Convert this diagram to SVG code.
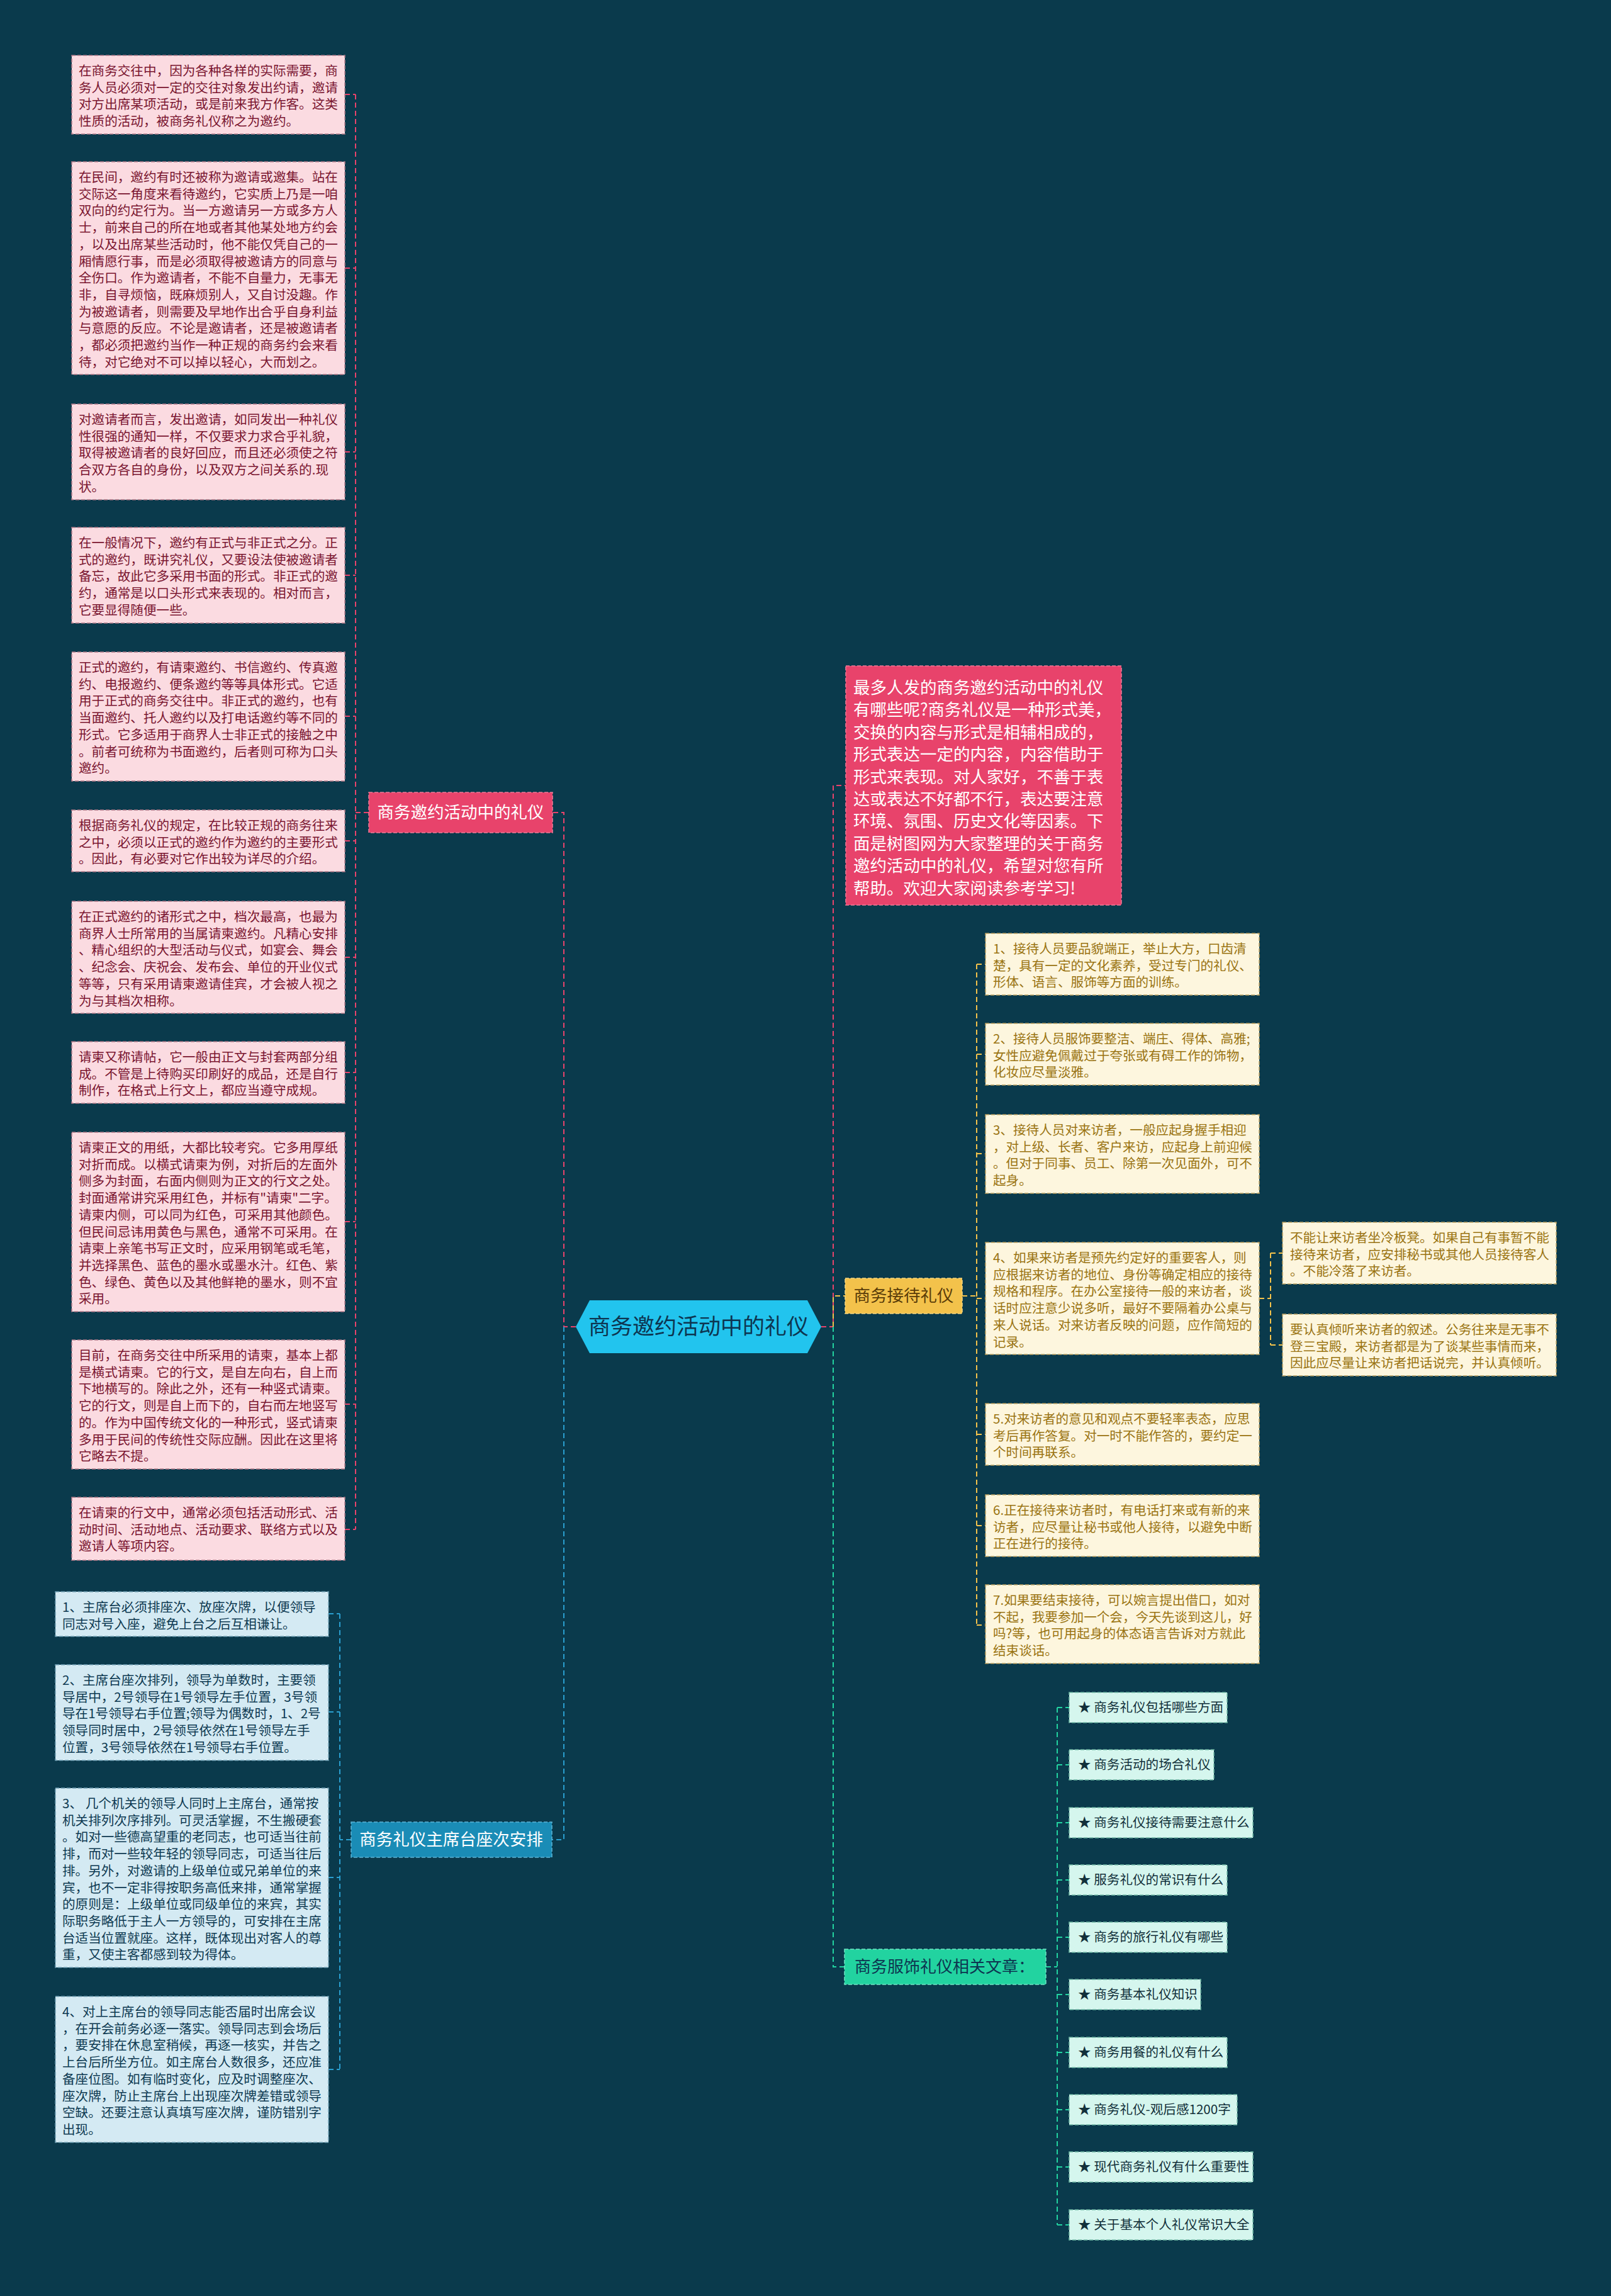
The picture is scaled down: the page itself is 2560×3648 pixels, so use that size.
<svg xmlns="http://www.w3.org/2000/svg" width="2560" height="3648" viewBox="0 0 2560 3648">
<style>
text{font-family:"Noto Sans CJK SC","Noto Sans",sans-serif;}
.lp{fill:#fbdbe1;stroke:#b07a88;stroke-width:1.5;stroke-dasharray:6 3;}
.lb{fill:#d4eaf3;stroke:#6f9fb3;stroke-width:1.5;stroke-dasharray:6 3;}
.ly{fill:#fdf6de;stroke:#b9a060;stroke-width:1.5;stroke-dasharray:6 3;}
.la{fill:#d5f6ee;stroke:#6fb8a4;stroke-width:1.5;stroke-dasharray:6 3;}
.tp{font-size:20.6px;fill:#7a1530;}
.tb{font-size:20.6px;fill:#0e3a52;}
.ty{font-size:20.6px;fill:#9a7412;}
.ta{font-size:20.6px;fill:#12303a;}
.br{font-size:26.5px;fill:#ffffff;}
.cp{fill:none;stroke:#e8436b;stroke-width:2;stroke-dasharray:8 5;}
.cb{fill:none;stroke:#2a9fd0;stroke-width:2;stroke-dasharray:8 5;}
.cy{fill:none;stroke:#f3c24b;stroke-width:2;stroke-dasharray:8 5;}
.cg{fill:none;stroke:#22d3a0;stroke-width:2;stroke-dasharray:8 5;}
</style>
<rect x="0" y="0" width="2560" height="3648" fill="#0a3a4c"/>

<g id="connectors">
  <!-- center to left branches -->
  <path class="cp" d="M915 2108 H896 V1291 H878"/>
  <path class="cb" d="M896 2108 V2923 H877"/>
  <!-- center to right branches -->
  <path class="cp" d="M1305 2108 H1324 V1248 H1344"/>
  <path class="cy" d="M1324 2108 V2059 H1343"/>
  <path class="cg" d="M1324 2108 V3125 H1342"/>
  <!-- pink leaves -->
  <path class="cp" d="M586 1291 H565 M565 150 V2430 M548 150 H565 M548 426 H565 M548 718 H565 M548 914 H565 M548 1138 H565 M548 1336 H565 M548 1521 H565 M548 1704 H565 M548 1941 H565 M548 2231 H565 M548 2430 H565"/>
  <!-- blue leaves -->
  <path class="cb" d="M558 2923 H540 M540 2564 V3288 M522 2564 H540 M522 2720 H540 M522 2983 H540 M522 3288 H540"/>
  <!-- yellow leaves -->
  <path class="cy" d="M1529 2059 H1552 M1552 1532 V2582 M1552 1532 H1566 M1552 1675 H1566 M1552 1833 H1566 M1552 2063 H1566 M1552 2279 H1566 M1552 2424 H1566 M1552 2582 H1566"/>
  <path class="cy" d="M2001 2063 H2019 M2019 1991 V2137 M2019 1991 H2038 M2019 2137 H2038"/>
  <!-- article leaves -->
  <path class="cg" d="M1662 3125 H1680 M1680 2713 V3535 M1680 2713 H1699 M1680 2804 H1699 M1680 2896 H1699 M1680 2987 H1699 M1680 3078 H1699 M1680 3169 H1699 M1680 3261 H1699 M1680 3352 H1699 M1680 3443 H1699 M1680 3535 H1699"/>
</g>

<g id="center">
  <path d="M915 2108 L937 2066 H1283 L1305 2108 L1283 2150 H937 Z" fill="#22c4ee"/>
  <text x="1110" y="2120" text-anchor="middle" font-size="35" fill="#0d3550">商务邀约活动中的礼仪</text>
</g>

<g id="branch-invite">
  <rect x="586" y="1259" width="292" height="64" fill="#e8436b" stroke="#f07a97" stroke-width="1.5" stroke-dasharray="6 3"/>
  <text class="br" x="732" y="1300" text-anchor="middle">商务邀约活动中的礼仪</text>
</g>
<g id="branch-seat">
  <rect x="558" y="2895" width="319" height="56" fill="#1a8cb6" stroke="#5bb4d6" stroke-width="1.5" stroke-dasharray="6 3"/>
  <text class="br" x="717" y="2932" text-anchor="middle">商务礼仪主席台座次安排</text>
</g>
<g id="intro">
  <rect x="1344" y="1058" width="438" height="380" fill="#e8436b" stroke="#f07a97" stroke-width="1.5" stroke-dasharray="6 3"/>
  <text class="br" x="1356" y="1102"><tspan x="1356" dy="0">最多人发的商务邀约活动中的礼仪</tspan><tspan x="1356" dy="35.4">有哪些呢?商务礼仪是一种形式美，</tspan><tspan x="1356" dy="35.4">交换的内容与形式是相辅相成的，</tspan><tspan x="1356" dy="35.4">形式表达一定的内容，内容借助于</tspan><tspan x="1356" dy="35.4">形式来表现。对人家好，不善于表</tspan><tspan x="1356" dy="35.4">达或表达不好都不行，表达要注意</tspan><tspan x="1356" dy="35.4">环境、氛围、历史文化等因素。下</tspan><tspan x="1356" dy="35.4">面是树图网为大家整理的关于商务</tspan><tspan x="1356" dy="35.4">邀约活动中的礼仪，希望对您有所</tspan><tspan x="1356" dy="35.4">帮助。欢迎大家阅读参考学习!</tspan></text>
</g>
<g id="branch-reception">
  <rect x="1343" y="2031" width="186" height="56" fill="#f3c24b" stroke="#f7d67e" stroke-width="1.5" stroke-dasharray="6 3"/>
  <text x="1436" y="2068" text-anchor="middle" font-size="26.5" fill="#5a3c08">商务接待礼仪</text>
</g>
<g id="branch-articles">
  <rect x="1342" y="3097" width="320" height="56" fill="#22d3a0" stroke="#6ee4c2" stroke-width="1.5" stroke-dasharray="6 3"/>
  <text x="1358" y="3134" font-size="26" fill="#0d3550">商务服饰礼仪相关文章：</text>
</g>

<!-- pink leaves -->
<g id="p1"><rect class="lp" x="114" y="88" width="434" height="125"/>
<text class="tp" x="125" y="120"><tspan x="125">在商务交往中，因为各种各样的实际需要，商</tspan><tspan x="125" dy="26.7">务人员必须对一定的交往对象发出约请，邀请</tspan><tspan x="125" dy="26.7">对方出席某项活动，或是前来我方作客。这类</tspan><tspan x="125" dy="26.7">性质的活动，被商务礼仪称之为邀约。</tspan></text></g>
<g id="p2"><rect class="lp" x="114" y="257" width="434" height="338"/>
<text class="tp" x="125" y="289"><tspan x="125">在民间，邀约有时还被称为邀请或邀集。站在</tspan><tspan x="125" dy="26.7">交际这一角度来看待邀约，它实质上乃是一咱</tspan><tspan x="125" dy="26.7">双向的约定行为。当一方邀请另一方或多方人</tspan><tspan x="125" dy="26.7">士，前来自己的所在地或者其他某处地方约会</tspan><tspan x="125" dy="26.7">，以及出席某些活动时，他不能仅凭自己的一</tspan><tspan x="125" dy="26.7">厢情愿行事，而是必须取得被邀请方的同意与</tspan><tspan x="125" dy="26.7">全伤口。作为邀请者，不能不自量力，无事无</tspan><tspan x="125" dy="26.7">非，自寻烦恼，既麻烦别人，又自讨没趣。作</tspan><tspan x="125" dy="26.7">为被邀请者，则需要及早地作出合乎自身利益</tspan><tspan x="125" dy="26.7">与意愿的反应。不论是邀请者，还是被邀请者</tspan><tspan x="125" dy="26.7">，都必须把邀约当作一种正规的商务约会来看</tspan><tspan x="125" dy="26.7">待，对它绝对不可以掉以轻心，大而划之。</tspan></text></g>
<g id="p3"><rect class="lp" x="114" y="642" width="434" height="152"/>
<text class="tp" x="125" y="674"><tspan x="125">对邀请者而言，发出邀请，如同发出一种礼仪</tspan><tspan x="125" dy="26.7">性很强的通知一样，不仅要求力求合乎礼貌，</tspan><tspan x="125" dy="26.7">取得被邀请者的良好回应，而且还必须使之符</tspan><tspan x="125" dy="26.7">合双方各自的身份，以及双方之间关系的.现</tspan><tspan x="125" dy="26.7">状。</tspan></text></g>
<g id="p4"><rect class="lp" x="114" y="838" width="434" height="152"/>
<text class="tp" x="125" y="870"><tspan x="125">在一般情况下，邀约有正式与非正式之分。正</tspan><tspan x="125" dy="26.7">式的邀约，既讲究礼仪，又要设法使被邀请者</tspan><tspan x="125" dy="26.7">备忘，故此它多采用书面的形式。非正式的邀</tspan><tspan x="125" dy="26.7">约，通常是以口头形式来表现的。相对而言，</tspan><tspan x="125" dy="26.7">它要显得随便一些。</tspan></text></g>
<g id="p5"><rect class="lp" x="114" y="1036" width="434" height="205"/>
<text class="tp" x="125" y="1068"><tspan x="125">正式的邀约，有请柬邀约、书信邀约、传真邀</tspan><tspan x="125" dy="26.7">约、电报邀约、便条邀约等等具体形式。它适</tspan><tspan x="125" dy="26.7">用于正式的商务交往中。非正式的邀约，也有</tspan><tspan x="125" dy="26.7">当面邀约、托人邀约以及打电话邀约等不同的</tspan><tspan x="125" dy="26.7">形式。它多适用于商界人士非正式的接触之中</tspan><tspan x="125" dy="26.7">。前者可统称为书面邀约，后者则可称为口头</tspan><tspan x="125" dy="26.7">邀约。</tspan></text></g>
<g id="p6"><rect class="lp" x="114" y="1287" width="434" height="98"/>
<text class="tp" x="125" y="1319"><tspan x="125">根据商务礼仪的规定，在比较正规的商务往来</tspan><tspan x="125" dy="26.7">之中，必须以正式的邀约作为邀约的主要形式</tspan><tspan x="125" dy="26.7">。因此，有必要对它作出较为详尽的介绍。</tspan></text></g>
<g id="p7"><rect class="lp" x="114" y="1432" width="434" height="178"/>
<text class="tp" x="125" y="1464"><tspan x="125">在正式邀约的诸形式之中，档次最高，也最为</tspan><tspan x="125" dy="26.7">商界人士所常用的当属请柬邀约。凡精心安排</tspan><tspan x="125" dy="26.7">、精心组织的大型活动与仪式，如宴会、舞会</tspan><tspan x="125" dy="26.7">、纪念会、庆祝会、发布会、单位的开业仪式</tspan><tspan x="125" dy="26.7">等等，只有采用请柬邀请佳宾，才会被人视之</tspan><tspan x="125" dy="26.7">为与其档次相称。</tspan></text></g>
<g id="p8"><rect class="lp" x="114" y="1655" width="434" height="98"/>
<text class="tp" x="125" y="1687"><tspan x="125">请柬又称请帖，它一般由正文与封套两部分组</tspan><tspan x="125" dy="26.7">成。不管是上待购买印刷好的成品，还是自行</tspan><tspan x="125" dy="26.7">制作，在格式上行文上，都应当遵守成规。</tspan></text></g>
<g id="p9"><rect class="lp" x="114" y="1799" width="434" height="285"/>
<text class="tp" x="125" y="1831"><tspan x="125">请柬正文的用纸，大都比较考究。它多用厚纸</tspan><tspan x="125" dy="26.7">对折而成。以横式请柬为例，对折后的左面外</tspan><tspan x="125" dy="26.7">侧多为封面，右面内侧则为正文的行文之处。</tspan><tspan x="125" dy="26.7">封面通常讲究采用红色，并标有"请柬"二字。</tspan><tspan x="125" dy="26.7">请柬内侧，可以同为红色，可采用其他颜色。</tspan><tspan x="125" dy="26.7">但民间忌讳用黄色与黑色，通常不可采用。在</tspan><tspan x="125" dy="26.7">请柬上亲笔书写正文时，应采用钢笔或毛笔，</tspan><tspan x="125" dy="26.7">并选择黑色、蓝色的墨水或墨水汁。红色、紫</tspan><tspan x="125" dy="26.7">色、绿色、黄色以及其他鲜艳的墨水，则不宜</tspan><tspan x="125" dy="26.7">采用。</tspan></text></g>
<g id="p10"><rect class="lp" x="114" y="2129" width="434" height="205"/>
<text class="tp" x="125" y="2161"><tspan x="125">目前，在商务交往中所采用的请柬，基本上都</tspan><tspan x="125" dy="26.7">是横式请柬。它的行文，是自左向右，自上而</tspan><tspan x="125" dy="26.7">下地横写的。除此之外，还有一种竖式请柬。</tspan><tspan x="125" dy="26.7">它的行文，则是自上而下的，自右而左地竖写</tspan><tspan x="125" dy="26.7">的。作为中国传统文化的一种形式，竖式请柬</tspan><tspan x="125" dy="26.7">多用于民间的传统性交际应酬。因此在这里将</tspan><tspan x="125" dy="26.7">它略去不提。</tspan></text></g>
<g id="p11"><rect class="lp" x="114" y="2379" width="434" height="100"/>
<text class="tp" x="125" y="2411"><tspan x="125">在请柬的行文中，通常必须包括活动形式、活</tspan><tspan x="125" dy="26.7">动时间、活动地点、活动要求、联络方式以及</tspan><tspan x="125" dy="26.7">邀请人等项内容。</tspan></text></g>

<!-- blue leaves -->
<g id="s1"><rect class="lb" x="88" y="2529" width="434" height="71"/>
<text class="tb" x="99" y="2561"><tspan x="99">1、主席台必须排座次、放座次牌，以便领导</tspan><tspan x="99" dy="26.7">同志对号入座，避免上台之后互相谦让。</tspan></text></g>
<g id="s2"><rect class="lb" x="88" y="2645" width="434" height="152"/>
<text class="tb" x="99" y="2677"><tspan x="99">2、主席台座次排列，领导为单数时，主要领</tspan><tspan x="99" dy="26.7">导居中，2号领导在1号领导左手位置，3号领</tspan><tspan x="99" dy="26.7">导在1号领导右手位置;领导为偶数时，1、2号</tspan><tspan x="99" dy="26.7">领导同时居中，2号领导依然在1号领导左手</tspan><tspan x="99" dy="26.7">位置，3号领导依然在1号领导右手位置。</tspan></text></g>
<g id="s3"><rect class="lb" x="88" y="2841" width="434" height="285"/>
<text class="tb" x="99" y="2873"><tspan x="99">3、 几个机关的领导人同时上主席台，通常按</tspan><tspan x="99" dy="26.7">机关排列次序排列。可灵活掌握，不生搬硬套</tspan><tspan x="99" dy="26.7">。如对一些德高望重的老同志，也可适当往前</tspan><tspan x="99" dy="26.7">排，而对一些较年轻的领导同志，可适当往后</tspan><tspan x="99" dy="26.7">排。另外，对邀请的上级单位或兄弟单位的来</tspan><tspan x="99" dy="26.7">宾，也不一定非得按职务高低来排，通常掌握</tspan><tspan x="99" dy="26.7">的原则是：上级单位或同级单位的来宾，其实</tspan><tspan x="99" dy="26.7">际职务略低于主人一方领导的，可安排在主席</tspan><tspan x="99" dy="26.7">台适当位置就座。这样，既体现出对客人的尊</tspan><tspan x="99" dy="26.7">重，又使主客都感到较为得体。</tspan></text></g>
<g id="s4"><rect class="lb" x="88" y="3172" width="434" height="232"/>
<text class="tb" x="99" y="3204"><tspan x="99">4、对上主席台的领导同志能否届时出席会议</tspan><tspan x="99" dy="26.7">，在开会前务必逐一落实。领导同志到会场后</tspan><tspan x="99" dy="26.7">，要安排在休息室稍候，再逐一核实，并告之</tspan><tspan x="99" dy="26.7">上台后所坐方位。如主席台人数很多，还应准</tspan><tspan x="99" dy="26.7">备座位图。如有临时变化，应及时调整座次、</tspan><tspan x="99" dy="26.7">座次牌，防止主席台上出现座次牌差错或领导</tspan><tspan x="99" dy="26.7">空缺。还要注意认真填写座次牌，谨防错别字</tspan><tspan x="99" dy="26.7">出现。</tspan></text></g>

<!-- yellow leaves -->
<g id="r1"><rect class="ly" x="1566" y="1483" width="435" height="98"/>
<text class="ty" x="1578" y="1515"><tspan x="1578">1、接待人员要品貌端正，举止大方，口齿清</tspan><tspan x="1578" dy="26.7">楚，具有一定的文化素养，受过专门的礼仪、</tspan><tspan x="1578" dy="26.7">形体、语言、服饰等方面的训练。</tspan></text></g>
<g id="r2"><rect class="ly" x="1566" y="1626" width="435" height="98"/>
<text class="ty" x="1578" y="1658"><tspan x="1578">2、接待人员服饰要整洁、端庄、得体、高雅;</tspan><tspan x="1578" dy="26.7">女性应避免佩戴过于夸张或有碍工作的饰物，</tspan><tspan x="1578" dy="26.7">化妆应尽量淡雅。</tspan></text></g>
<g id="r3"><rect class="ly" x="1566" y="1771" width="435" height="125"/>
<text class="ty" x="1578" y="1803"><tspan x="1578">3、接待人员对来访者，一般应起身握手相迎</tspan><tspan x="1578" dy="26.7">，对上级、长者、客户来访，应起身上前迎候</tspan><tspan x="1578" dy="26.7">。但对于同事、员工、除第一次见面外，可不</tspan><tspan x="1578" dy="26.7">起身。</tspan></text></g>
<g id="r4"><rect class="ly" x="1566" y="1974" width="435" height="178"/>
<text class="ty" x="1578" y="2006"><tspan x="1578">4、如果来访者是预先约定好的重要客人，则</tspan><tspan x="1578" dy="26.7">应根据来访者的地位、身份等确定相应的接待</tspan><tspan x="1578" dy="26.7">规格和程序。在办公室接待一般的来访者，谈</tspan><tspan x="1578" dy="26.7">话时应注意少说多听，最好不要隔着办公桌与</tspan><tspan x="1578" dy="26.7">来人说话。对来访者反映的问题，应作简短的</tspan><tspan x="1578" dy="26.7">记录。</tspan></text></g>
<g id="r4a"><rect class="ly" x="2038" y="1942" width="435" height="98"/>
<text class="ty" x="2050" y="1974"><tspan x="2050">不能让来访者坐冷板凳。如果自己有事暂不能</tspan><tspan x="2050" dy="26.7">接待来访者，应安排秘书或其他人员接待客人</tspan><tspan x="2050" dy="26.7">。不能冷落了来访者。</tspan></text></g>
<g id="r4b"><rect class="ly" x="2038" y="2088" width="435" height="98"/>
<text class="ty" x="2050" y="2120"><tspan x="2050">要认真倾听来访者的叙述。公务往来是无事不</tspan><tspan x="2050" dy="26.7">登三宝殿，来访者都是为了谈某些事情而来，</tspan><tspan x="2050" dy="26.7">因此应尽量让来访者把话说完，并认真倾听。</tspan></text></g>
<g id="r5"><rect class="ly" x="1566" y="2230" width="435" height="98"/>
<text class="ty" x="1578" y="2262"><tspan x="1578">5.对来访者的意见和观点不要轻率表态，应思</tspan><tspan x="1578" dy="26.7">考后再作答复。对一时不能作答的，要约定一</tspan><tspan x="1578" dy="26.7">个时间再联系。</tspan></text></g>
<g id="r6"><rect class="ly" x="1566" y="2375" width="435" height="98"/>
<text class="ty" x="1578" y="2407"><tspan x="1578">6.正在接待来访者时，有电话打来或有新的来</tspan><tspan x="1578" dy="26.7">访者，应尽量让秘书或他人接待，以避免中断</tspan><tspan x="1578" dy="26.7">正在进行的接待。</tspan></text></g>
<g id="r7"><rect class="ly" x="1566" y="2518" width="435" height="125"/>
<text class="ty" x="1578" y="2550"><tspan x="1578">7.如果要结束接待，可以婉言提出借口，如对</tspan><tspan x="1578" dy="26.7">不起，我要参加一个会，今天先谈到这儿，好</tspan><tspan x="1578" dy="26.7">吗?等，也可用起身的体态语言告诉对方就此</tspan><tspan x="1578" dy="26.7">结束谈话。</tspan></text></g>

<!-- article leaves -->
<g id="a1"><rect class="la" x="1699" y="2689" width="251" height="48"/><text class="ta" x="1713" y="2720">★ 商务礼仪包括哪些方面</text></g>
<g id="a2"><rect class="la" x="1699" y="2780" width="230" height="48"/><text class="ta" x="1713" y="2811">★ 商务活动的场合礼仪</text></g>
<g id="a3"><rect class="la" x="1699" y="2872" width="292" height="48"/><text class="ta" x="1713" y="2903">★ 商务礼仪接待需要注意什么</text></g>
<g id="a4"><rect class="la" x="1699" y="2963" width="251" height="48"/><text class="ta" x="1713" y="2994">★ 服务礼仪的常识有什么</text></g>
<g id="a5"><rect class="la" x="1699" y="3054" width="251" height="48"/><text class="ta" x="1713" y="3085">★ 商务的旅行礼仪有哪些</text></g>
<g id="a6"><rect class="la" x="1699" y="3145" width="209" height="48"/><text class="ta" x="1713" y="3176">★ 商务基本礼仪知识</text></g>
<g id="a7"><rect class="la" x="1699" y="3237" width="251" height="48"/><text class="ta" x="1713" y="3268">★ 商务用餐的礼仪有什么</text></g>
<g id="a8"><rect class="la" x="1699" y="3328" width="267" height="48"/><text class="ta" x="1713" y="3359">★ 商务礼仪-观后感1200字</text></g>
<g id="a9"><rect class="la" x="1699" y="3419" width="292" height="48"/><text class="ta" x="1713" y="3450">★ 现代商务礼仪有什么重要性</text></g>
<g id="a10"><rect class="la" x="1699" y="3511" width="292" height="48"/><text class="ta" x="1713" y="3542">★ 关于基本个人礼仪常识大全</text></g>
</svg>
